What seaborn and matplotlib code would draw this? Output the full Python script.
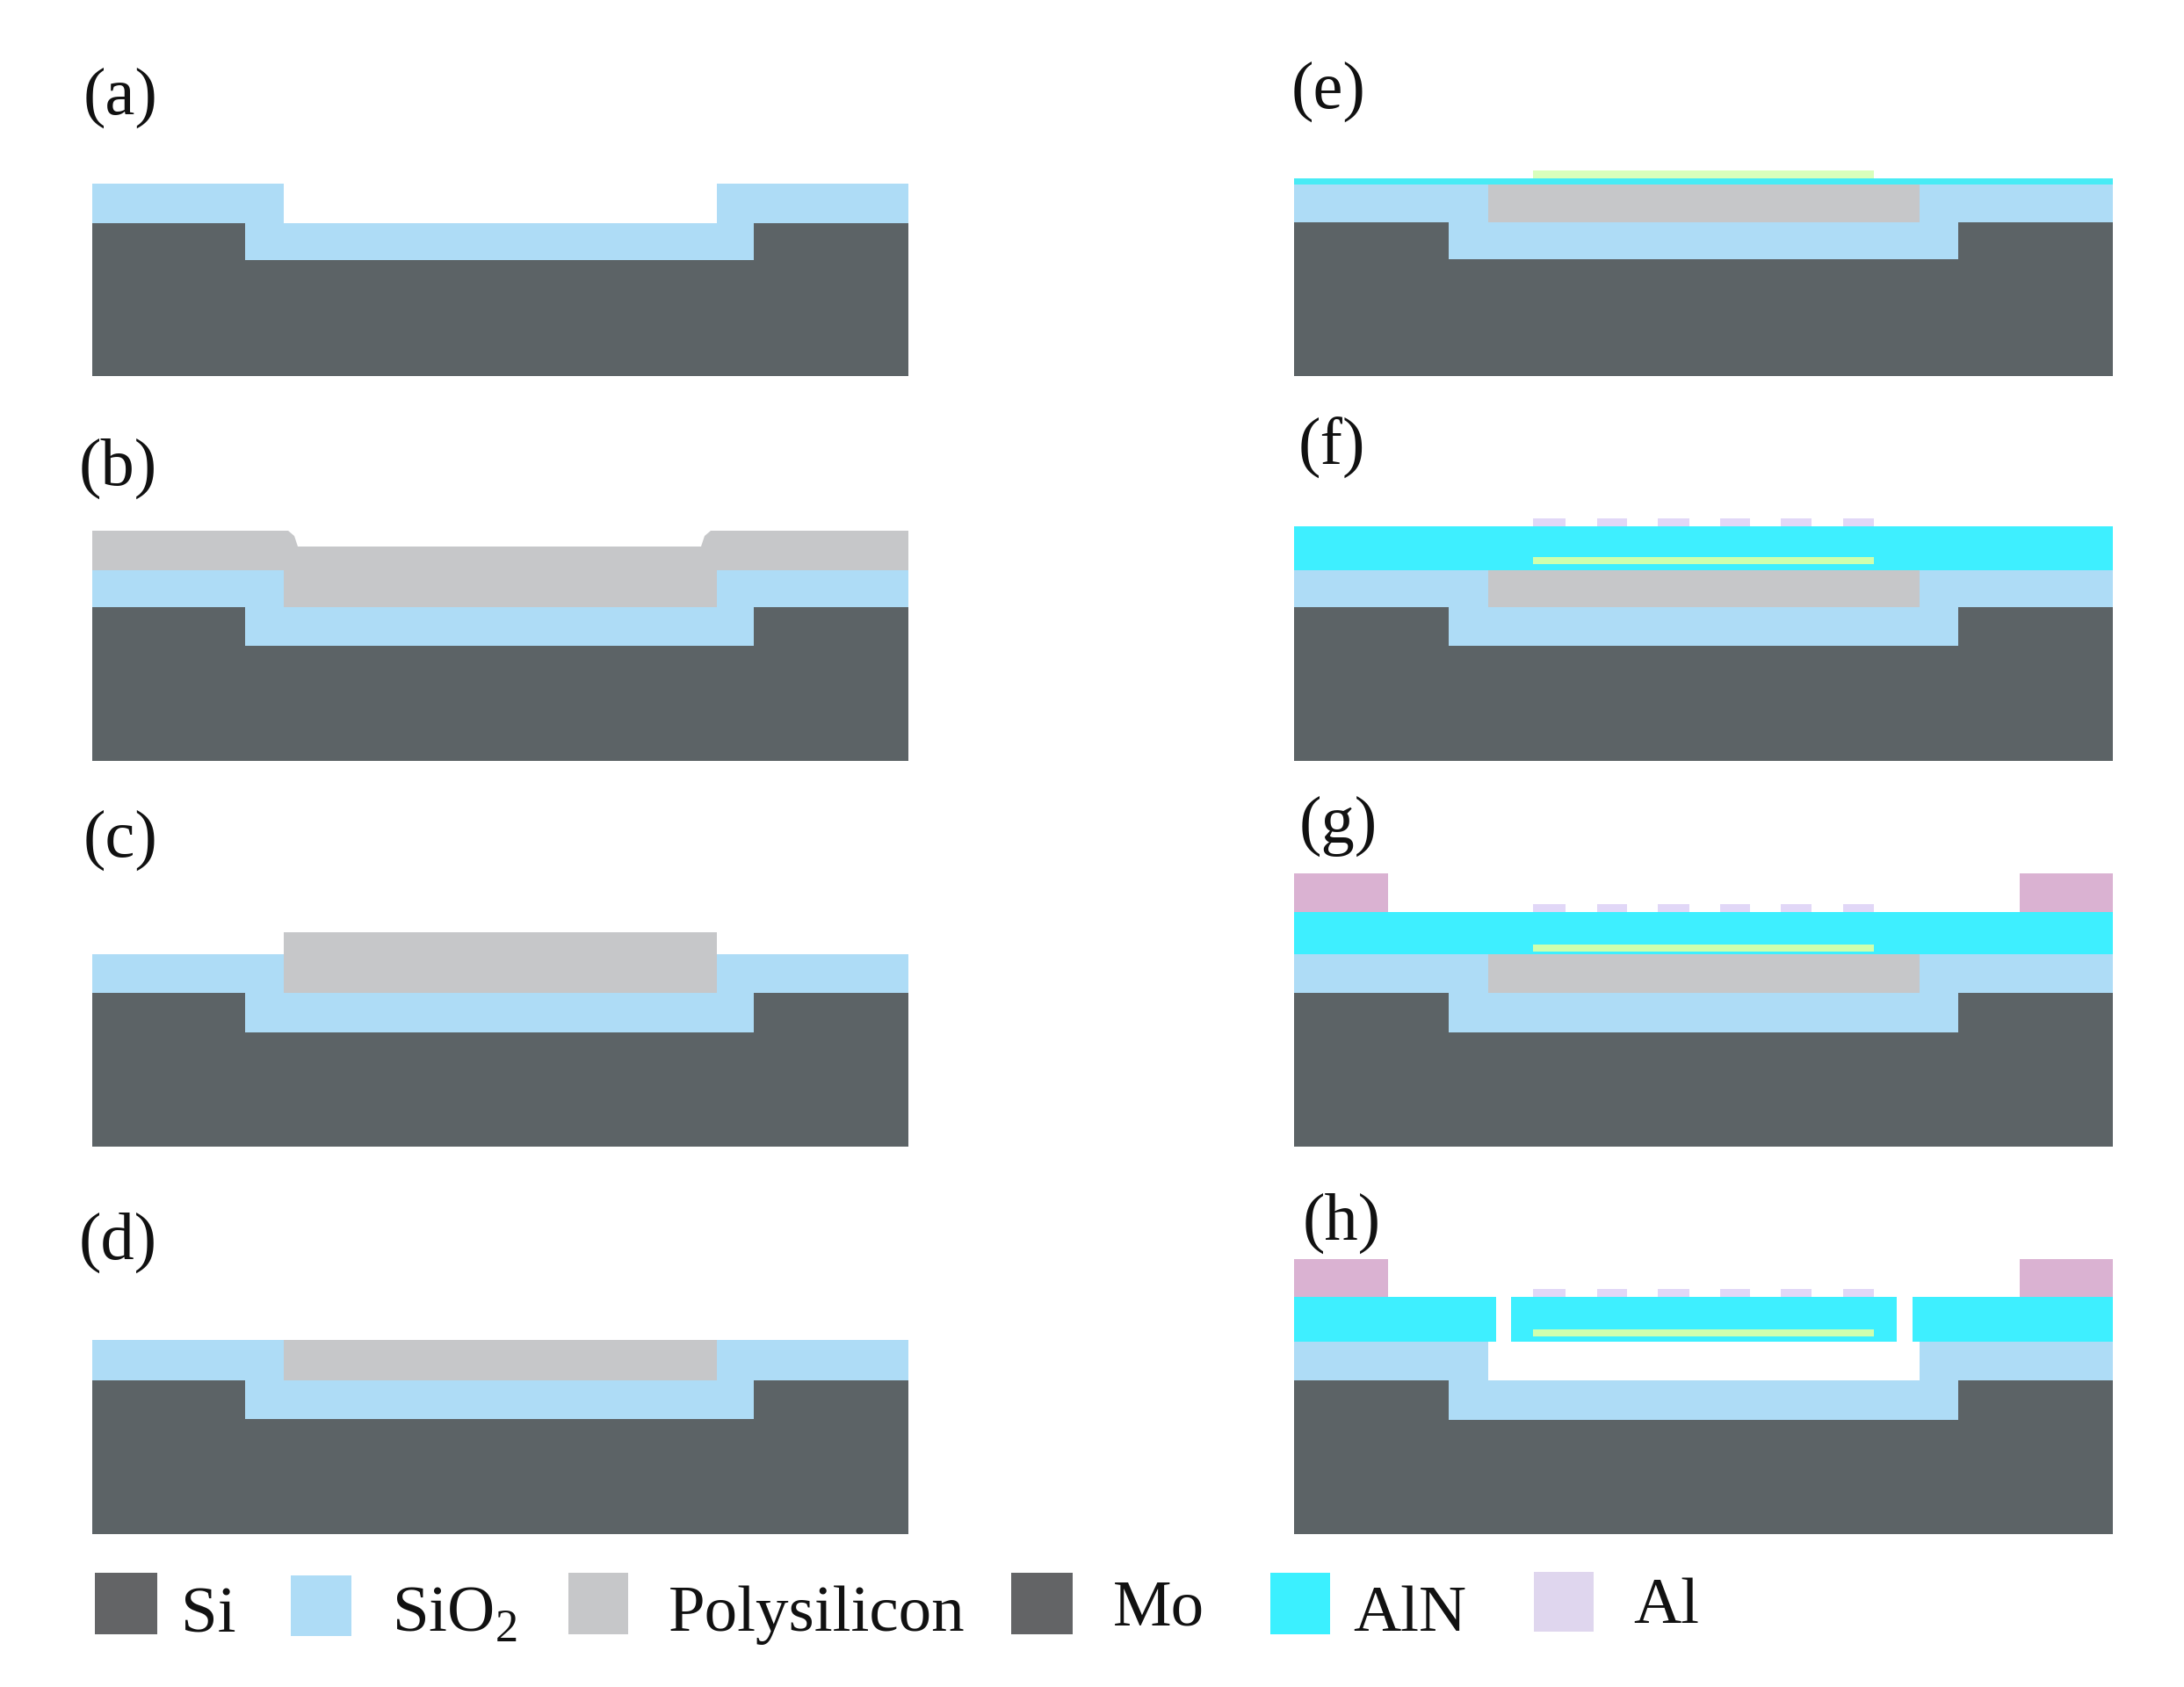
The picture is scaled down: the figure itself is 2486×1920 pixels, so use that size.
import matplotlib
matplotlib.use("Agg")
import matplotlib.pyplot as plt
import seaborn as sns

sns.set_theme(style="white")
plt.rcParams['font.family'] = ['Liberation Serif', 'DejaVu Sans']
plt.rcParams['mathtext.fontset'] = 'custom'
plt.rcParams['mathtext.rm'] = 'Liberation Serif'

# ---- colours
SI = "#5C6366"; SIO2 = "#AEDCF6"; POLY = "#C6C7C9"; ALN = "#3EEFFF"
AL = "#E1D7F7"; PAD = "#DAB2D2"; MO = "#CFFFAE"; MO_TOP = "#D9FFBC"; ALN_THIN = "#48EBF5"
palette = sns.color_palette([SI, SIO2, POLY, ALN, AL, PAD, MO])

# ---- x edges of the two columns: outer, trench, recess, recess, trench, outer
left_x = [105, 279, 323, 816, 858, 1034]
right_x = [1473, 1649, 1694, 2185, 2229, 2405]

# ---- y levels: SiO2 top, Si top, trench floor, substrate bottom
levels_a = [209, 254, 296, 428]
levels_b = [649, 691, 735, 866]
levels_c = [1086, 1130, 1175, 1305]
levels_d = [1525, 1571, 1615, 1746]
levels_e = [210, 253, 295, 428]
levels_f = [649, 691, 735, 866]
levels_g = [1086, 1130, 1175, 1305]
levels_h = [1527, 1571, 1616, 1746]

# ---- thin patterned metal
al_left = [1745, 1818, 1887, 1958, 2027, 2098]
al_right = [1782, 1852, 1923, 1992, 2062, 2133]
mo_x = [1745, 2133]
pad_left_x = [1473, 1580]
pad_right_x = [2299, 2405]
aln_h_left = [1473, 1720, 2177]
aln_h_right = [1703, 2159, 2405]

# ---- labels
panel_labels = ["(a)", "(b)", "(c)", "(d)", "(e)", "(f)", "(g)", "(h)"]
panel_label_x = [95, 90, 95, 90, 1470, 1478, 1479, 1483]
panel_label_y = [130, 552, 975, 1433, 123, 529, 959, 1411]

legend_names = ["Si", "SiO$_{\\mathregular{2}}$", "Polysilicon", "Mo", "AlN", "Al"]
legend_colors = ["#636466", SIO2, POLY, "#636466", "#3BF0FF", "#DFD6EE"]
legend_x0 = [108, 331, 647, 1151, 1446, 1746]
legend_x1 = [179, 400, 715, 1221, 1514, 1814]
legend_y0 = [1790, 1793, 1790, 1790, 1790, 1789]
legend_y1 = [1860, 1862, 1860, 1860, 1860, 1857]
legend_text_x = [206, 446, 761, 1267, 1540, 1859]
legend_text_y = [1857, 1857, 1856, 1850, 1856, 1847]

fig = plt.figure(figsize=(24.86, 19.2), dpi=100)
ax = fig.add_axes([0, 0, 1, 1])
ax.set_xlim(0, 2486)
ax.set_ylim(1920, 0)
ax.axis("off")


def rect(x0, x1, y0, y1, color, z=2):
    ax.fill([x0, x1, x1, x0], [y0, y0, y1, y1], color=color, lw=0, zorder=z)


def base(x, lv):
    rect(x[0], x[5], lv[1], lv[3], SI, 1)
    ax.fill([x[0], x[2], x[2], x[3], x[3], x[5], x[5], x[4], x[4], x[1], x[1], x[0]],
            [lv[0], lv[0], lv[1], lv[1], lv[0], lv[0], lv[1], lv[1], lv[2], lv[2], lv[1], lv[1]],
            color=SIO2, lw=0, zorder=2)


for lv in [levels_a, levels_b, levels_c, levels_d]:
    base(left_x, lv)
for lv in [levels_e, levels_f, levels_g, levels_h]:
    base(right_x, lv)

# (b) conformal polysilicon
poly_b_x = [105, 328, 335, 339, 798, 802, 809, 1034, 1034, 816, 816, 323, 323, 105]
poly_b_y = [604, 604, 610, 622, 622, 610, 604, 604, 649, 649, 691, 691, 649, 649]
ax.fill(poly_b_x, poly_b_y, color=POLY, lw=0, zorder=3)
# (c), (d) polysilicon
rect(left_x[2], left_x[3], 1061, levels_c[1], POLY, 3)
rect(left_x[2], left_x[3], levels_d[0], levels_d[1], POLY, 3)
# (e)
rect(right_x[2], right_x[3], levels_e[0], levels_e[1], POLY, 3)
rect(right_x[0], right_x[5], 203, levels_e[0], ALN_THIN, 3)
rect(mo_x[0], mo_x[1], 194, 203, MO_TOP, 3)
# (f), (g) stack
for lv, aln_top, mo_top, al_top in [(levels_f, 599, 634, 590), (levels_g, 1038, 1075, 1029)]:
    rect(right_x[2], right_x[3], lv[0], lv[1], POLY, 3)
    rect(right_x[0], right_x[5], aln_top, lv[0], ALN, 3)
    rect(mo_x[0], mo_x[1], mo_top, mo_top + 8, MO, 4)
    for a, b in zip(al_left, al_right):
        rect(a, b, al_top, aln_top, AL, 3)
# (g) pads
rect(pad_left_x[0], pad_left_x[1], 994, 1038, PAD, 3)
rect(pad_right_x[0], pad_right_x[1], 994, 1038, PAD, 3)
# (h) released membrane
rect(right_x[2], right_x[3], levels_h[0], levels_h[1], "white", 3)
for a, b in zip(aln_h_left, aln_h_right):
    rect(a, b, 1476, levels_h[0], ALN, 3)
rect(mo_x[0], mo_x[1], 1513, 1521, MO, 4)
for a, b in zip(al_left, al_right):
    rect(a, b, 1467, 1476, AL, 3)
rect(pad_left_x[0], pad_left_x[1], 1433, 1476, PAD, 3)
rect(pad_right_x[0], pad_right_x[1], 1433, 1476, PAD, 3)

for t, x, y in zip(panel_labels, panel_label_x, panel_label_y):
    ax.text(x, y, t, fontsize=55, color="#111111", ha="left", va="baseline")

for n, c, x0, x1, y0, y1, tx, ty in zip(legend_names, legend_colors, legend_x0, legend_x1,
                                        legend_y0, legend_y1, legend_text_x, legend_text_y):
    rect(x0, x1, y0, y1, c, 3)
    ax.text(tx, ty, n, fontsize=54, color="#111111", ha="left", va="baseline")

fig.savefig("out.png", dpi=100, facecolor="white")
